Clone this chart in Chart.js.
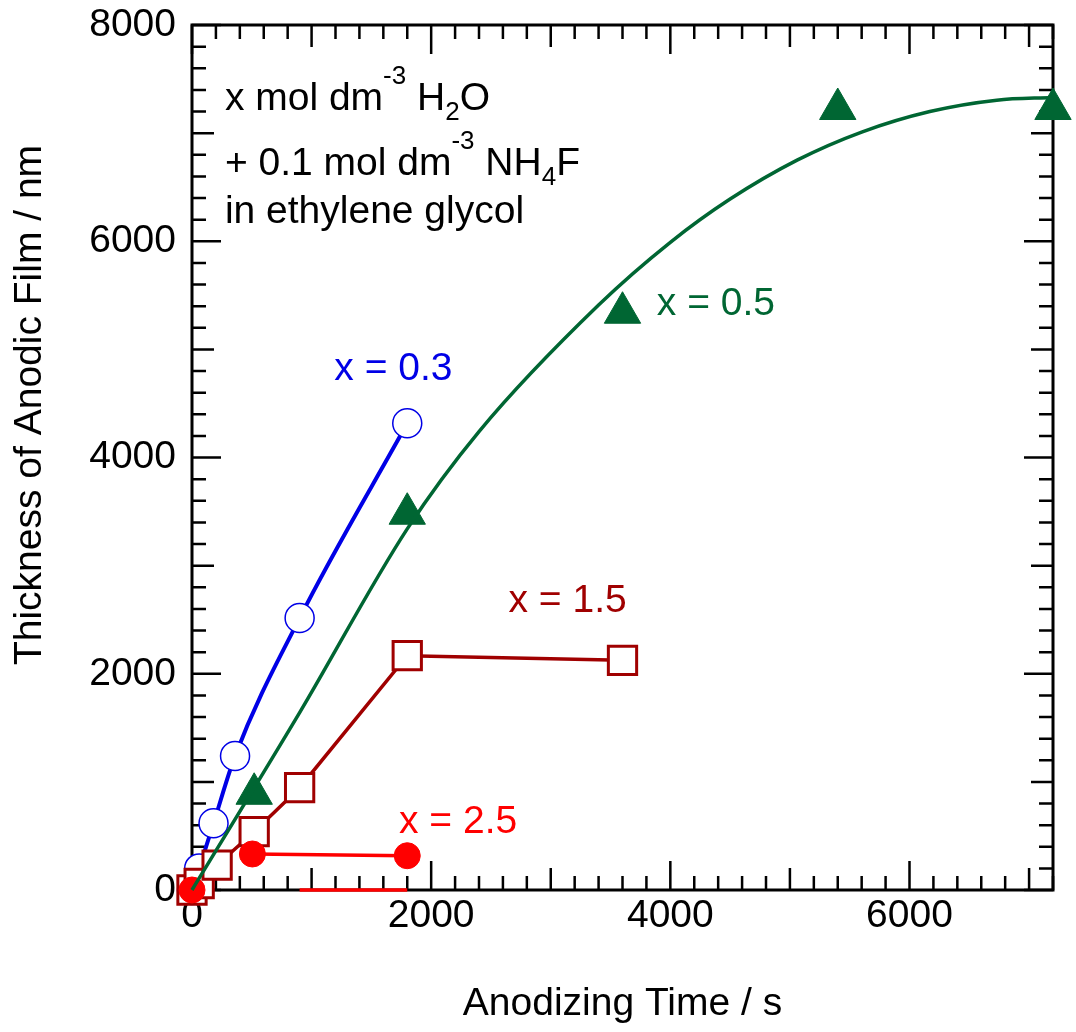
<!DOCTYPE html>
<html lang="en">
<head>
<meta charset="UTF-8">
<title>Thickness of Anodic Film</title>
<script src="https://cdn.jsdelivr.net/npm/chart.js@4"></script>
<style>
  html, body { margin: 0; padding: 0; background: #fff; }
  #wrap { width: 1076px; height: 1032px; }
</style>
</head>
<body>
<div id="wrap"><canvas id="filmChart"></canvas></div>
<script>
// values: anodizing time (s) vs film thickness (nm)
const timeX03 = [0, 60, 180, 360, 900, 1800];
const thickX03 = [0, 200, 617, 1239, 2515, 4316];

const timeX15 = [0, 60, 210, 520, 900, 1800, 3600];
const thickX15 = [0, 60, 231, 539, 946, 2167, 2124];

const timeX25 = [0, 505, 1800];
const thickX25 = [0, 333, 317];

const timeX05 = [520, 1800, 3600, 5400, 7200];
const thickX05 = [890, 3480, 5339, 7223, 7223];

// fitted curve for x = 0.5
const timeFit05 = [0, 900, 1800, 2400, 3400, 4000, 4500, 5060, 5600, 6170, 6730, 7200];
const thickFit05 = [0, 1640, 3340, 4240, 5410, 5990, 6390, 6750, 7010, 7200, 7305, 7330];

// short red segment lying on the time axis
const timeAxisRed = [900, 1800];
const thickAxisRed = [0, 0];

const xTickLabels = [0, 2000, 4000, 6000];
const yTickLabels = [0, 2000, 4000, 6000, 8000];

const FONT = '"Liberation Sans", Arial, Helvetica, sans-serif';
const SIZE = 39;
const BLUE = '#0000e6', GREEN = '#006633', DARKRED = '#a00000', RED = '#ff0000';

function pts(xs, ys) {
  return xs.map((x, i) => ({x: x, y: ys[i]}));
}

// text notes: [text, shift] where 1 = superscript, -1 = subscript
const noteLines = [
  {at: [275, 7214], parts: [['x mol dm', 0], ['-3', 1], [' H', 0], ['2', -1], ['O', 0]]},
  {at: [275, 6612], parts: [['+ 0.1 mol dm', 0], ['-3', 1], [' NH', 0], ['4', -1], ['F', 0]]},
  {at: [275, 6168], parts: [['in ethylene glycol', 0]]}
];
const seriesLabels = [
  {text: 'x = 0.3', at: [1190, 4717], color: BLUE},
  {text: 'x = 0.5', at: [3887, 5318], color: GREEN},
  {text: 'x = 1.5', at: [2647, 2571], color: DARKRED},
  {text: 'x = 2.5', at: [1731, 527], color: RED}
];

function drawRich(ctx, parts, x, y) {
  let cx = x;
  parts.forEach(([txt, shift]) => {
    const fs = shift === 0 ? SIZE : 26;
    ctx.font = fs + 'px ' + FONT;
    const dy = shift > 0 ? -26 : (shift < 0 ? 10 : 0);
    ctx.fillText(txt, cx, y + dy);
    cx += ctx.measureText(txt).width;
  });
}

// box frame with inward ticks on all four sides
const frameTicks = {
  id: 'frameTicks',
  beforeDatasetsDraw(chart) {
    const {ctx, chartArea: a, scales: {x, y}} = chart;
    ctx.save();
    ctx.strokeStyle = '#000';
    ctx.lineWidth = 2.5;
    ctx.beginPath();
    for (let v = 0; v <= 7200; v += 200) {
      const px = x.getPixelForValue(v);
      const len = v % 2000 === 0 ? 29 : (v % 1000 === 0 ? 22 : 14);
      ctx.moveTo(px, a.bottom); ctx.lineTo(px, a.bottom - len);
      ctx.moveTo(px, a.top); ctx.lineTo(px, a.top + len);
    }
    for (let v = 0; v <= 8000; v += 200) {
      const py = y.getPixelForValue(v);
      const len = v % 2000 === 0 ? 29 : (v % 1000 === 0 ? 22 : 14);
      ctx.moveTo(a.left, py); ctx.lineTo(a.left + len, py);
      ctx.moveTo(a.right, py); ctx.lineTo(a.right - len, py);
    }
    ctx.stroke();
    ctx.lineWidth = 3;
    ctx.strokeRect(a.left, a.top, a.right - a.left, a.bottom - a.top);
    ctx.restore();
  },
  afterDraw(chart) {
    const {ctx, scales: {x, y}} = chart;
    ctx.save();
    ctx.textBaseline = 'alphabetic';
    ctx.textAlign = 'left';
    ctx.fillStyle = '#000';
    noteLines.forEach(n => drawRich(ctx, n.parts, x.getPixelForValue(n.at[0]), y.getPixelForValue(n.at[1])));
    ctx.font = SIZE + 'px ' + FONT;
    seriesLabels.forEach(l => {
      ctx.fillStyle = l.color;
      ctx.fillText(l.text, x.getPixelForValue(l.at[0]), y.getPixelForValue(l.at[1]));
    });
    // y axis title
    ctx.fillStyle = '#000';
    ctx.textAlign = 'center';
    ctx.textBaseline = 'middle';
    ctx.translate(30, 405);
    ctx.rotate(-Math.PI / 2);
    ctx.fillText('Thickness of Anodic Film / nm', 0, 0);
    ctx.restore();
  }
};

const ctx = document.getElementById('filmChart').getContext('2d');
new Chart(ctx, {
  type: 'scatter',
  data: {
    datasets: [
      {
        label: 'x = 0.3',
        data: pts(timeX03, thickX03),
        showLine: true,
        cubicInterpolationMode: 'monotone',
        borderColor: BLUE,
        borderWidth: 4,
        pointStyle: 'circle',
        pointRadius: 14.5,
        pointBackgroundColor: '#fff',
        pointBorderColor: BLUE,
        pointBorderWidth: 1.5,
        clip: false,
        order: 6
      },
      {
        label: 'x = 1.5',
        data: pts(timeX15, thickX15),
        showLine: true,
        borderColor: DARKRED,
        borderWidth: 3.5,
        pointStyle: 'rect',
        pointRadius: 20,
        pointBackgroundColor: '#fff',
        pointBorderColor: DARKRED,
        pointBorderWidth: 3,
        clip: false,
        order: 5
      },
      {
        label: 'x = 2.5',
        data: pts(timeX25, thickX25),
        showLine: true,
        borderColor: RED,
        borderWidth: 3.5,
        segment: { borderColor: c => c.p0DataIndex === 0 ? 'rgba(0,0,0,0)' : RED },
        pointStyle: 'circle',
        pointRadius: 13,
        pointBackgroundColor: RED,
        pointBorderColor: RED,
        pointBorderWidth: 1,
        clip: false,
        order: 4
      },
      {
        label: 'axis segment',
        data: pts(timeAxisRed, thickAxisRed),
        showLine: true,
        borderColor: RED,
        borderWidth: 3.5,
        pointRadius: 0,
        clip: false,
        order: 4
      },
      {
        label: 'x = 0.5',
        data: pts(timeX05, thickX05),
        showLine: false,
        pointStyle: 'triangle',
        pointRadius: 21,
        pointBackgroundColor: GREEN,
        pointBorderColor: GREEN,
        pointBorderWidth: 1,
        clip: false,
        order: 3
      },
      {
        label: 'fit x = 0.5',
        data: pts(timeFit05, thickFit05),
        showLine: true,
        cubicInterpolationMode: 'monotone',
        borderColor: GREEN,
        borderWidth: 3.5,
        pointRadius: 0,
        clip: false,
        order: 2
      }
    ]
  },
  options: {
    responsive: true,
    maintainAspectRatio: false,
    animation: false,
    layout: { padding: { top: 25, right: 19, left: 0, bottom: 0 } },
    plugins: {
      legend: { display: false },
      tooltip: { enabled: false }
    },
    scales: {
      x: {
        type: 'linear',
        min: 0,
        max: 7200,
        afterBuildTicks: s => { s.ticks = xTickLabels.map(v => ({value: v})); },
        afterFit: s => { s.height = 142; s.paddingLeft = 0; s.paddingRight = 0; },
        grid: { display: false, drawTicks: false },
        border: { display: false },
        ticks: {
          color: '#000', padding: 3, maxRotation: 0,
          font: { family: FONT, size: SIZE },
          callback: v => String(v)
        },
        title: {
          display: true,
          text: 'Anodizing Time / s',
          color: '#000',
          padding: { top: 0, bottom: 4 },
          font: { family: FONT, size: SIZE }
        }
      },
      y: {
        type: 'linear',
        min: 0,
        max: 8000,
        afterBuildTicks: s => { s.ticks = yTickLabels.map(v => ({value: v})); },
        afterFit: s => { s.width = 192; s.paddingTop = 0; s.paddingBottom = 0; },
        grid: { display: false, drawTicks: false },
        border: { display: false },
        ticks: {
          color: '#000', padding: 16,
          font: { family: FONT, size: SIZE },
          callback: v => String(v)
        }
      }
    }
  },
  plugins: [frameTicks]
});
</script>
</body>
</html>
